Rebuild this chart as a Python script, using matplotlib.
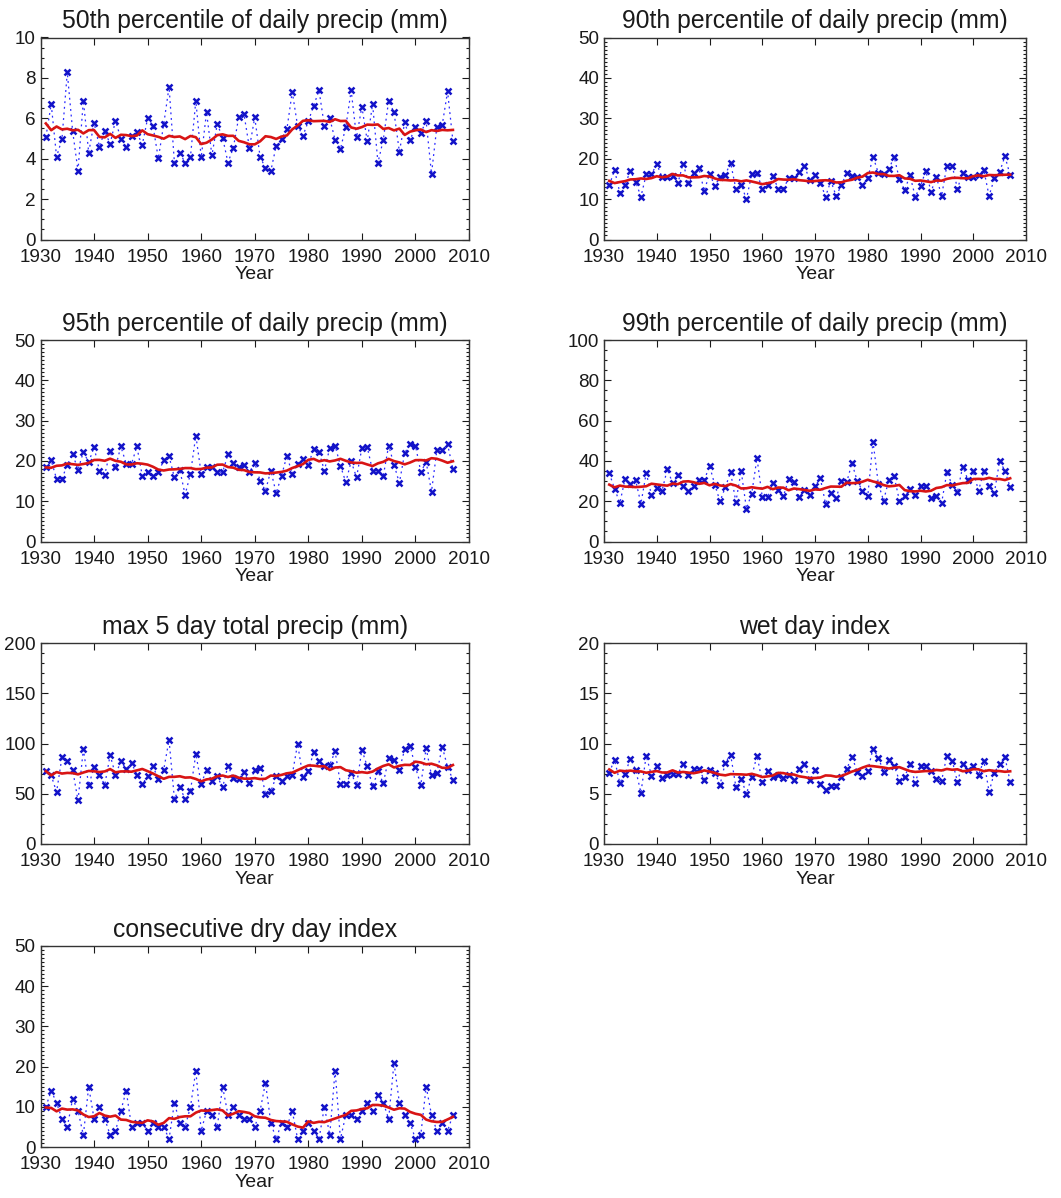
import numpy as np
import matplotlib
matplotlib.use("Agg")
import matplotlib.pyplot as plt
from matplotlib.ticker import MultipleLocator

plt.rcParams['font.family'] = ['Liberation Sans', 'DejaVu Sans']

years = np.arange(1931, 2008)

p50 = [5.07, 6.70, 4.10, 4.96, 8.27, 5.37, 3.40, 6.88, 4.30, 5.79,
       4.60, 5.36, 4.73, 5.89, 4.99, 4.56, 5.12, 5.30, 4.69, 6.00,
       5.62, 4.01, 5.70, 7.55, 3.81, 4.30, 3.80, 4.10, 6.87, 4.06,
       6.30, 4.16, 5.72, 5.04, 3.81, 4.54, 6.04, 6.19, 4.54, 6.04,
       4.08, 3.55, 3.40, 4.63, 4.99, 5.46, 7.31, 5.62, 5.14, 5.85,
       6.63, 7.38, 5.62, 6.00, 4.93, 4.49, 5.57, 7.38, 5.06, 6.58,
       4.88, 6.70, 3.80, 4.94, 6.87, 6.29, 4.35, 5.80, 4.94, 5.56,
       5.29, 5.85, 3.25, 5.59, 5.67, 7.33, 4.86]

p90 = [13.4, 17.2, 11.6, 13.6, 17.0, 14.3, 10.6, 16.1, 16.2, 18.6,
       15.5, 15.5, 15.8, 13.9, 18.8, 14.1, 16.4, 17.6, 12.0, 16.3,
       13.3, 15.5, 16.0, 19.0, 12.5, 13.6, 10.0, 16.1, 16.4, 12.6,
       13.4, 15.8, 12.6, 12.6, 15.1, 15.1, 16.7, 18.2, 14.7, 16.0,
       14.1, 10.6, 14.5, 10.8, 13.4, 16.5, 15.8, 15.5, 13.4, 15.1,
       20.5, 16.5, 16.3, 17.4, 20.5, 14.9, 12.2, 15.9, 10.6, 13.2,
       17.0, 11.8, 15.5, 10.8, 18.3, 18.3, 12.6, 16.5, 15.5, 15.5,
       15.9, 17.2, 10.8, 15.1, 16.7, 20.6, 15.9]

p95 = [18.4, 20.1, 15.5, 15.5, 19.1, 21.7, 17.8, 22.2, 19.7, 23.4,
       17.6, 16.6, 22.4, 18.4, 23.6, 19.3, 19.3, 23.6, 16.3, 17.2,
       16.2, 17.2, 20.1, 21.1, 15.9, 17.8, 11.6, 16.8, 26.3, 16.8,
       18.4, 18.4, 17.2, 17.2, 21.6, 19.4, 18.4, 19.1, 17.2, 19.5,
       15.1, 12.6, 17.6, 12.0, 16.3, 21.3, 16.8, 19.3, 20.5, 19.0,
       23.0, 22.2, 17.6, 23.2, 23.8, 18.8, 14.7, 19.9, 15.9, 23.2,
       23.4, 17.6, 17.6, 16.3, 23.8, 19.1, 14.5, 22.0, 24.1, 23.8,
       17.3, 19.7, 12.4, 22.6, 22.7, 24.1, 18.0]

p99 = [33.9, 26.2, 19.1, 31.1, 28.7, 30.3, 18.8, 33.9, 23.2, 26.5,
       25.2, 35.9, 29.0, 32.8, 27.3, 24.9, 27.3, 30.3, 30.3, 37.6,
       28.2, 19.9, 27.0, 34.3, 19.6, 35.1, 16.3, 23.7, 41.4, 22.1,
       22.1, 29.0, 25.7, 22.4, 31.0, 29.5, 22.1, 25.7, 22.9, 27.3,
       31.5, 18.8, 24.1, 21.6, 29.8, 29.3, 38.9, 30.1, 25.2, 22.4,
       49.6, 28.7, 20.3, 30.6, 32.3, 20.3, 22.4, 26.2, 23.2, 27.7,
       27.3, 21.6, 22.7, 19.1, 34.3, 28.2, 24.5, 37.2, 30.6, 34.8,
       25.2, 34.8, 27.3, 24.1, 40.0, 35.1, 26.9]

rx5day = [72.2, 68.2, 51.7, 86.1, 82.8, 73.8, 43.4, 94.4, 58.3, 76.5,
          68.2, 58.9, 88.4, 68.9, 82.1, 74.8, 80.5, 68.9, 59.6, 67.2,
          77.2, 64.6, 73.8, 103.6, 44.7, 56.6, 44.7, 53.0, 89.7, 59.9,
          73.8, 62.3, 67.2, 56.3, 77.8, 65.6, 64.6, 71.5, 60.6, 73.8,
          75.5, 50.0, 52.3, 67.2, 62.3, 67.2, 68.9, 99.7, 66.6, 72.8,
          91.4, 82.8, 77.2, 78.8, 92.1, 59.9, 59.6, 70.5, 58.3, 93.7,
          77.2, 57.3, 72.2, 60.6, 85.4, 83.8, 73.8, 94.4, 97.7, 76.2,
          58.9, 95.4, 68.2, 70.5, 97.0, 76.5, 63.9]

wet_day = [7.1, 8.4, 6.1, 7.0, 8.5, 7.4, 5.1, 8.8, 6.8, 7.8,
           6.6, 6.9, 7.0, 7.0, 7.95, 6.9, 7.45, 7.45, 6.4, 7.4,
           7.1, 5.9, 8.1, 8.9, 5.7, 6.5, 5.0, 6.7, 8.8, 6.2,
           7.3, 6.7, 6.9, 6.6, 6.9, 6.4, 7.45, 7.95, 6.4, 7.4,
           6.0, 5.4, 5.8, 5.8, 6.7, 7.45, 8.7, 7.2, 6.8, 7.3,
           9.5, 8.6, 7.2, 8.35, 7.8, 6.3, 6.7, 7.95, 6.1, 7.8,
           7.8, 7.3, 6.5, 6.3, 8.8, 8.3, 6.2, 8.0, 7.4, 7.75,
           6.9, 8.3, 5.2, 7.1, 7.95, 8.65, 6.2]

cdd = [10, 14, 11, 7, 5, 12, 9, 3, 15, 7,
       10, 7, 3, 4, 9, 14, 5, 6, 6, 4,
       6, 5, 5, 2, 11, 6, 5, 10, 19, 4,
       9, 8, 5, 15, 8, 10, 8, 7, 7, 5,
       9, 16, 6, 2, 6, 5, 9, 2, 4, 6,
       4, 2, 10, 3, 19, 2, 8, 8, 7, 9,
       11, 9, 13, 11, 7, 21, 11, 8, 6, 2,
       3, 15, 8, 4, 6, 4, 8]

titles = ["50th percentile of daily precip (mm)",
          "90th percentile of daily precip (mm)",
          "95th percentile of daily precip (mm)",
          "99th percentile of daily precip (mm)",
          "max 5 day total precip (mm)",
          "wet day index",
          "consecutive dry day index"]
series = [p50, p90, p95, p99, rx5day, wet_day, cdd]
y_max = [10, 50, 50, 100, 200, 20, 50]
y_major = [2, 10, 10, 20, 50, 5, 10]
y_minor = [0.5, 1, 1, 5, 10, 1, 1]
x_ticks = [1930, 1940, 1950, 1960, 1970, 1980, 1990, 2000, 2010]


def running_mean(values, half=5):
    """Centred 11-year running mean; the window shrinks at the record ends."""
    v = np.asarray(values, dtype=float)
    out = np.empty_like(v)
    for i in range(len(v)):
        lo, hi = max(0, i - half), min(len(v), i + half + 1)
        out[i] = v[lo:hi].mean()
    return out


W, H = 1061, 1198
fig = plt.figure(figsize=(W / 100, H / 100), dpi=100)

col_lr = [(40.5, 469), (604, 1026)]
row_tb = [(37.5, 239.5), (340, 541.5), (643, 844), (946, 1147)]

ink = '#1a1a1a'
for k, (title, vals) in enumerate(zip(titles, series)):
    r, c = divmod(k, 2)
    (l, rr), (t, b) = col_lr[c], row_tb[r]
    ax = fig.add_axes([l / W, 1 - b / H, (rr - l) / W, (b - t) / H])

    # yearly values: dotted connector plus cross markers
    ax.plot(years, vals, linestyle=(0, (1.5, 3.0)), color='#2a2aff', lw=0.9,
            zorder=2)
    ax.plot(years, vals, linestyle='none', marker='x', ms=5, mew=1.8,
            color='#1212c8', zorder=3)
    # smoothed curve
    ax.plot(years, running_mean(vals), color='#d81414', lw=1.9, zorder=4)

    ax.set_xlim(1930, 2010)
    ax.set_ylim(0, y_max[k])
    ax.set_xticks(x_ticks)
    ax.yaxis.set_major_locator(MultipleLocator(y_major[k]))
    ax.yaxis.set_minor_locator(MultipleLocator(y_minor[k]))
    ax.tick_params(axis='both', which='both', direction='in', top=True,
                   right=True, colors=ink, labelcolor=ink, labelsize=13.6,
                   width=0.8)
    ax.tick_params(axis='both', which='major', length=5)
    ax.tick_params(axis='y', which='minor', length=2.5)
    ax.tick_params(axis='x', which='major', pad=6.5)
    ax.tick_params(axis='y', which='major', pad=3.5)
    for s in ax.spines.values():
        s.set_color('#333333')
        s.set_linewidth(1.0)

    ax.set_title(title, fontsize=17.8, color=ink, pad=6.5)
    ax.set_xlabel('Year', fontsize=14, color=ink, labelpad=0.5)

fig.savefig('out.png', dpi=100, facecolor='white')
